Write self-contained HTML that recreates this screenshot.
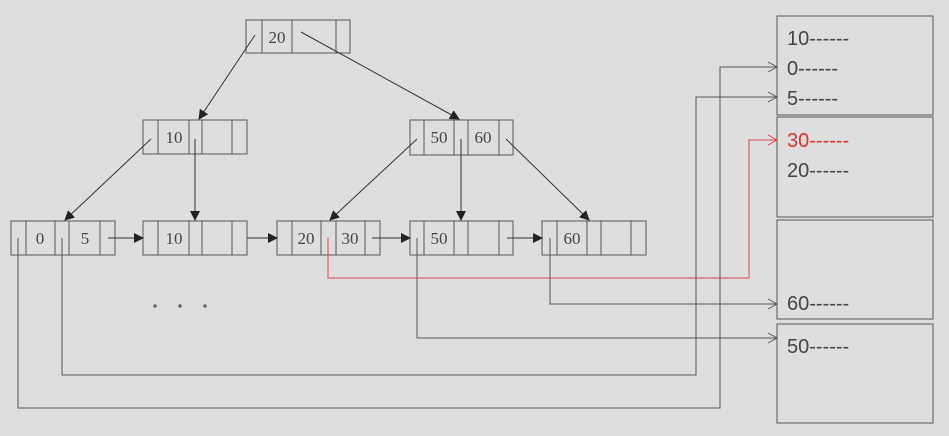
<!DOCTYPE html>
<html><head><style>
html,body{margin:0;padding:0;background:#dedede;}
svg{display:block;}
.k{font-family:"Liberation Serif",serif;font-size:17px;fill:#444;text-anchor:middle;}
.t{font-family:"Liberation Sans",sans-serif;font-size:20px;fill:#444;}
</style></head><body>
<svg width="949" height="436" viewBox="0 0 949 436" xmlns="http://www.w3.org/2000/svg">
<defs>
<marker id="f" markerWidth="10" markerHeight="10" refX="9" refY="5" orient="auto" markerUnits="userSpaceOnUse"><path d="M0,0 L10,5 L0,10 z" fill="#222"/></marker>
<marker id="o" markerWidth="12" markerHeight="12" refX="10" refY="6" orient="auto" markerUnits="userSpaceOnUse"><path d="M1,1 L10,6 L1,11" fill="none" stroke="#555" stroke-width="1"/></marker>
<marker id="r" markerWidth="12" markerHeight="12" refX="10" refY="6" orient="auto" markerUnits="userSpaceOnUse"><path d="M1,1 L10,6 L1,11" fill="none" stroke="#d44" stroke-width="1"/></marker>
</defs>
<g fill="none" stroke="#555" stroke-width="1">
<!-- nodes: x, y -->
<rect x="246" y="20" width="104" height="33"/><path d="M262,20v33M292,20v33M336,20v33"/>
<rect x="143" y="120" width="104" height="34"/><path d="M158,120v34M189,120v34M202,120v34M232,120v34"/>
<rect x="410" y="120" width="103" height="35"/><path d="M424,120v35M454,120v35M468,120v35M499,120v35"/>
<rect x="11" y="221" width="104" height="34"/><path d="M26,221v34M55,221v34M69,221v34M100,221v34"/>
<rect x="143" y="221" width="104" height="34"/><path d="M158,221v34M189,221v34M202,221v34M232,221v34"/>
<rect x="277" y="221" width="103" height="34"/><path d="M292,221v34M321,221v34M336,221v34M365,221v34"/>
<rect x="410" y="221" width="103" height="34"/><path d="M424,221v34M454,221v34M468,221v34M499,221v34"/>
<rect x="542" y="221" width="104" height="34"/><path d="M557,221v34M587,221v34M601,221v34M631,221v34"/>
<!-- right boxes -->
<rect x="777" y="16" width="156" height="99"/>
<rect x="777" y="117" width="156" height="100"/>
<rect x="777" y="220" width="156" height="99"/>
<rect x="777" y="324" width="156" height="99"/>
</g>
<g stroke="#333" stroke-width="1" fill="none" marker-end="url(#f)">
<line x1="255" y1="35" x2="199" y2="119"/>
<line x1="301" y1="32" x2="459" y2="119"/>
<line x1="151" y1="139" x2="65" y2="220"/>
<line x1="195" y1="139" x2="195" y2="220"/>
<line x1="417" y1="139" x2="330" y2="220"/>
<line x1="461" y1="139" x2="461" y2="220"/>
<line x1="506" y1="139" x2="589" y2="220"/>
<line x1="108" y1="238" x2="143" y2="238"/>
<line x1="247" y1="238" x2="277" y2="238"/>
<line x1="372" y1="238" x2="410" y2="238"/>
<line x1="507" y1="238" x2="542" y2="238"/>
</g>
<g stroke="#555" stroke-width="1" fill="none" marker-end="url(#o)">
<polyline points="18,238 18,408 720,408 720,67 777,67"/>
<polyline points="62,238 62,375 696,375 696,97 777,97"/>
<polyline points="417,238 417,338 777,338"/>
<polyline points="550,238 550,304 777,304"/>
</g>
<polyline points="328,238 328,278 749,278 749,140 777,140" stroke="#d44" fill="none" stroke-width="1" marker-end="url(#r)"/>
<g class="k">
<text x="277" y="43">20</text>
<text x="174" y="143">10</text>
<text x="439" y="143">50</text>
<text x="483" y="143">60</text>
<text x="40" y="244">0</text>
<text x="85" y="244">5</text>
<text x="174" y="244">10</text>
<text x="306" y="244">20</text>
<text x="350" y="244">30</text>
<text x="439" y="244">50</text>
<text x="572" y="244">60</text>
</g>
<g fill="#666"><circle cx="155" cy="306" r="1.8"/><circle cx="180" cy="306" r="1.8"/><circle cx="205" cy="306" r="1.8"/></g>
<g class="t">
<text x="787" y="45">10------</text>
<text x="787" y="75">0------</text>
<text x="787" y="105">5------</text>
<text x="787" y="147" fill="#d33">30------</text>
<text x="787" y="177">20------</text>
<text x="787" y="310">60------</text>
<text x="787" y="353">50------</text>
</g>
</svg>
</body></html>
